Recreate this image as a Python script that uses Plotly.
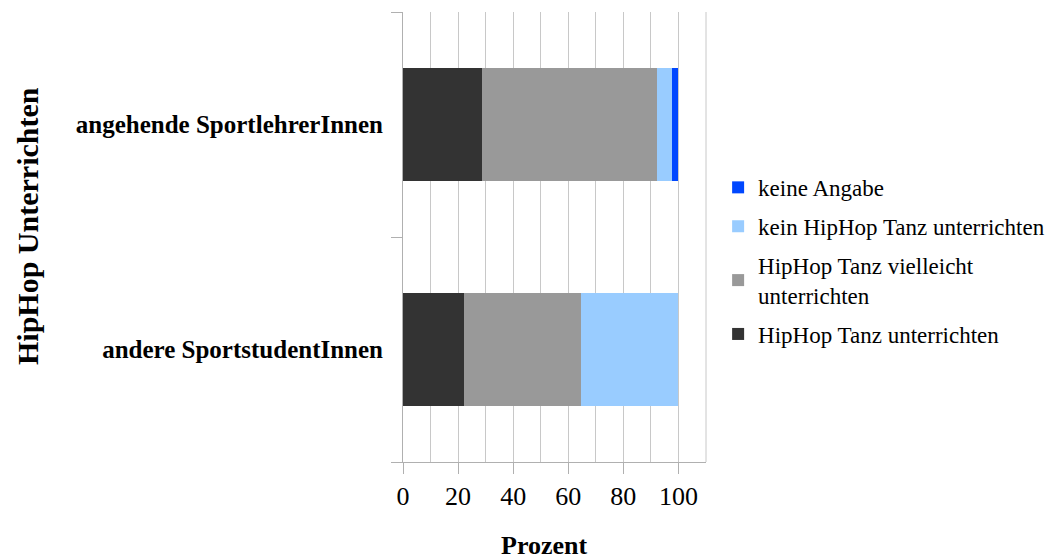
import plotly.graph_objects as go

# Survey groups (bottom to top) and percentage shares per answer
groups = ["andere SportstudentInnen", "angehende SportlehrerInnen"]
series_names = [
    "HipHop Tanz unterrichten",
    "HipHop Tanz vielleicht<br>unterrichten",
    "kein HipHop Tanz unterrichten",
    "keine Angabe",
]
unterrichten = [22.2, 28.7]
vielleicht = [42.4, 63.4]
kein = [35.4, 5.5]
keine_angabe = [0.0, 2.4]
series_values = [unterrichten, vielleicht, kein, keine_angabe]
series_colors = ["#333333", "#999999", "#99ccff", "#0047ff"]

x_tick_values = [0, 20, 40, 60, 80, 100]

serif = "'Liberation Serif', 'Times New Roman', serif"

fig = go.Figure()
n = len(series_names)
for i, (name, vals, col) in enumerate(zip(series_names, series_values, series_colors)):
    fig.add_trace(go.Bar(
        y=groups, x=vals, name=name, orientation="h",
        legendgroup="g%d" % i, legendrank=1000 + (n - i),
        marker=dict(color=col, line=dict(width=0)),
    ))

fig.update_layout(
    barmode="stack",
    bargap=0.5,
    width=1063, height=559,
    margin=dict(l=403, r=357, t=12, b=97),
    plot_bgcolor="white", paper_bgcolor="white",
    font=dict(family=serif, color="black"),
    legend=dict(
        traceorder="grouped",
        x=1.04, xanchor="left", y=0.658, yanchor="top",
        font=dict(size=23, family=serif),
        itemwidth=30, tracegroupgap=6,
    ),
    xaxis=dict(
        range=[0, 110],
        tickvals=x_tick_values,
        ticks="outside", ticklen=11, tickcolor="#b0b0b0",
        tickfont=dict(size=26, family=serif),
        showgrid=True, gridcolor="#c8c8c8", gridwidth=1,
        minor=dict(dtick=10, showgrid=True, gridcolor="#c8c8c8", ticks=""),
        showline=True, linecolor="#b0b0b0", linewidth=1,
        mirror=False, zeroline=False,
    ),
    yaxis=dict(
        type="category",
        categoryorder="array", categoryarray=groups,
        tickson="boundaries",
        ticks="outside", ticklen=11, tickcolor="#b0b0b0",
        tickfont=dict(size=25, family=serif),
        showline=True, linecolor="#b0b0b0", linewidth=1,
        showgrid=False, zeroline=False,
        ticklabelstandoff=14,
    ),
    annotations=[
        dict(
            text="<b>HipHop Unterrichten</b>", textangle=-90,
            xref="paper", yref="paper", x=(28 - 403) / 303, y=(462 - 226) / 450,
            xanchor="center", yanchor="middle", showarrow=False,
            font=dict(size=30, family=serif),
        ),
        dict(
            text="<b>Prozent</b>",
            xref="paper", yref="paper", x=(544 - 403) / 303, y=(462 - 545) / 450,
            xanchor="center", yanchor="middle", showarrow=False,
            font=dict(size=26, family=serif),
        ),
    ],
)

# Bold category labels on the y axis
fig.update_yaxes(
    tickvals=groups,
    ticktext=["<b>" + g + "</b>" for g in groups],
)

fig.add_shape(type="line", xref="paper", yref="paper", x0=1, x1=1, y0=0, y1=1,
              line=dict(color="#c8c8c8", width=1))

fig.write_html("out.html")
